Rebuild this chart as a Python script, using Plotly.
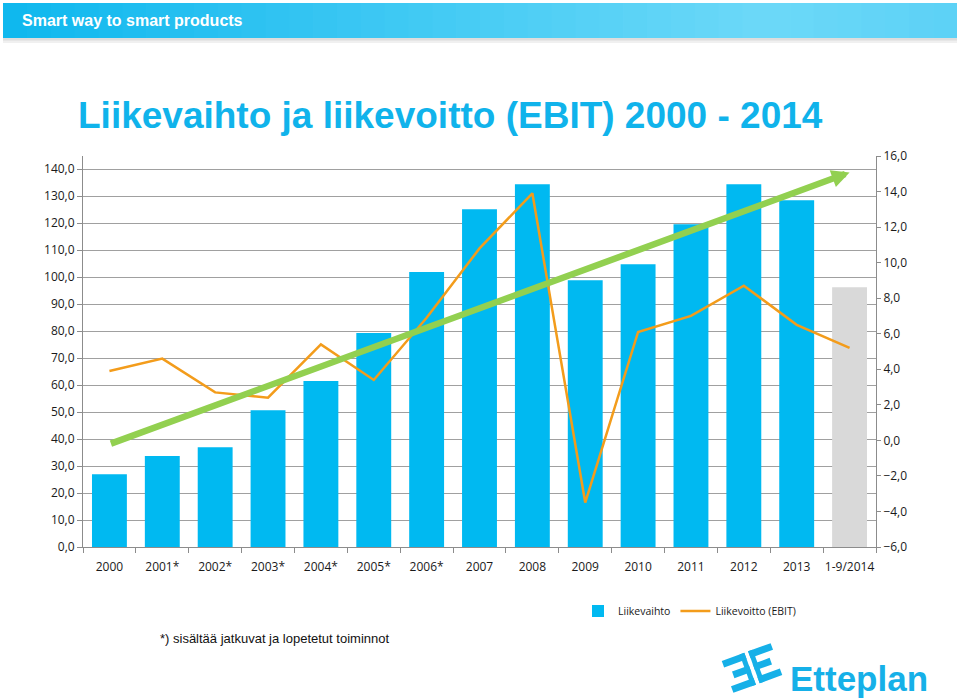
import math
import plotly.graph_objects as go

# ---------------- data ----------------
years = ["2000", "2001*", "2002*", "2003*", "2004*", "2005*", "2006*", "2007",
         "2008", "2009", "2010", "2011", "2012", "2013", "1-9/2014"]
revenue = [27.0, 33.7, 37.0, 50.7, 61.5, 79.3, 101.9, 125.2,
           134.4, 98.9, 104.8, 119.6, 134.4, 128.5, 96.3]
ebit = [3.9, 4.6, 2.7, 2.4, 5.4, 3.4, 6.9, 10.8,
        13.9, -3.5, 6.1, 7.0, 8.7, 6.5, 5.2]
trend_x = ["2000", "1-9/2014"]
trend_y = [38.1, 138.8]
left_ticks = list(range(0, 150, 10))
right_ticks = list(range(-6, 18, 2))

# ---------------- styles ----------------
W, H = 960, 700
L, R, T, B = 83, 876, 156, 547
BLUE = "#00B9F1"
GREY = "#D9D9D9"
ORANGE = "#F39C1B"
GREEN = "#92D050"
AXIS = "#8C8C8C"
GRID = "#A0A0A0"
TICKFONT = dict(family="Open Sans, Lato, sans-serif", size=12, color="#1a1a1a")


def px(x):
    return (x - L) / (R - L)


def py(y):
    return (B - y) / (B - T)


bar_colors = [BLUE] * (len(years) - 1) + [GREY]

fig = go.Figure()
fig.add_trace(go.Bar(
    x=years, y=revenue, name="Liikevaihto",
    marker=dict(color=bar_colors, line=dict(width=0)),
    yaxis="y",
))
fig.add_trace(go.Scatter(
    x=years, y=ebit, name="Liikevoitto (EBIT)", mode="lines",
    line=dict(color=ORANGE, width=2.5), yaxis="y2",
))

shapes = []
annotations = []

# green trend arrow
annotations.append(dict(
    x=years.index(trend_x[1]), y=trend_y[1],
    ax=years.index(trend_x[0]), ay=trend_y[0],
    xref="x", yref="y", axref="x", ayref="y",
    text="", showarrow=True, arrowhead=2, arrowsize=0.55,
    arrowwidth=6.5, arrowcolor=GREEN, standoff=0,
))

# header banner (gradient strips)
def lerp(c1, c2, t):
    return tuple(int(round(a + (b - a) * t)) for a, b in zip(c1, c2))

c_left, c_peak, c_end = (14, 183, 238), (108, 217, 248), (92, 209, 246)
n = 40
x0b, x1b = 3, 957
for i in range(n):
    xa = x0b + (x1b - x0b) * i / n
    xb = x0b + (x1b - x0b) * (i + 1) / n + 0.8
    t = (i + 0.5) / n
    if t < 0.8:
        c = lerp(c_left, c_peak, t / 0.8)
    else:
        c = lerp(c_peak, c_end, (t - 0.8) / 0.2)
    shapes.append(dict(type="rect", xref="paper", yref="paper",
                       x0=px(xa), x1=px(min(xb, x1b)), y0=py(38), y1=py(3),
                       fillcolor="rgb(%d,%d,%d)" % c, line=dict(width=0), layer="above"))
shapes.append(dict(type="rect", xref="paper", yref="paper",
                   x0=px(x0b), x1=px(x1b), y0=py(43), y1=py(38),
                   fillcolor="rgba(0,0,0,0.06)", line=dict(width=0)))
shapes.append(dict(type="rect", xref="paper", yref="paper",
                   x0=px(x0b), x1=px(x1b), y0=py(40.5), y1=py(38),
                   fillcolor="rgba(0,0,0,0.08)", line=dict(width=0)))

annotations.append(dict(
    x=px(20), y=py(20), xref="paper", yref="paper", xanchor="left", yanchor="middle",
    text="<b>Smart way to smart products</b>", showarrow=False,
    font=dict(family="Arial, Liberation Sans, sans-serif", size=16, color="white"),
))

# title
annotations.append(dict(
    x=px(76), y=py(115), xref="paper", yref="paper", xanchor="left", yanchor="middle",
    text="<b>Liikevaihto ja liikevoitto (EBIT) 2000 - 2014</b>", showarrow=False,
    font=dict(family="Arial, Liberation Sans, sans-serif", size=37, color="#10B3EB"),
))

# footnote
annotations.append(dict(
    x=px(158), y=py(638), xref="paper", yref="paper", xanchor="left", yanchor="middle",
    text="*) sisältää jatkuvat ja lopetetut toiminnot", showarrow=False,
    font=dict(family="Arial, Liberation Sans, sans-serif", size=13, color="#111111"),
))

# logo text
LOGO = "#16B0E8"
annotations.append(dict(
    x=px(788), y=py(678), xref="paper", yref="paper", xanchor="left", yanchor="middle",
    text="<b>Etteplan</b>", showarrow=False,
    font=dict(family="Arial, Liberation Sans, sans-serif", size=35, color=LOGO),
))

# logo icon: tilted mirrored "ƎE"
cx, cy, ang = 752, 668, math.radians(20)


def to_paper(u, v):
    xp = cx + (u * math.cos(ang) - v * math.sin(ang))
    yp = cy - (u * math.sin(ang) + v * math.cos(ang))
    return px(xp), py(yp)


def poly(pts):
    s = ""
    for k, (u, v) in enumerate(pts):
        a, b = to_paper(u, v)
        s += ("M" if k == 0 else "L") + "%.5f,%.5f " % (a, b)
    return s + "Z"


rects = []
for side in (-1, 1):
    s0, s1 = sorted([side * 2, side * 7])
    rects.append([(s0, -17), (s1, -17), (s1, 17), (s0, 17)])
    for (v0, v1, ln) in [(10, 17, 26), (-3.5, 3.5, 20), (-17, -10, 26)]:
        a0, a1 = sorted([side * 2, side * ln])
        rects.append([(a0, v0), (a1, v0), (a1, v1), (a0, v1)])
for r in rects:
    shapes.append(dict(type="path", xref="paper", yref="paper", path=poly(r),
                       fillcolor=LOGO, line=dict(width=0)))

fig.update_layout(
    width=W, height=H,
    margin=dict(l=L, r=W - R, t=T, b=H - B, pad=0),
    paper_bgcolor="white", plot_bgcolor="white",
    separators=", ",
    bargap=0.34,
    showlegend=True,
    legend=dict(orientation="h", x=px(578), y=py(611), xanchor="left", yanchor="middle",
                font=dict(family="Open Sans, Lato, sans-serif", size=10.5, color="#1a1a1a"),
                bgcolor="rgba(0,0,0,0)", traceorder="normal"),
    xaxis=dict(type="category", showline=True, linecolor=AXIS, linewidth=1,
               ticks="outside", tickson="boundaries", ticklen=5, tickcolor=AXIS,
               tickangle=0, ticklabelstandoff=9, showgrid=False, tickfont=TICKFONT),
    yaxis=dict(range=[0, 144.9], tickvals=left_ticks, tickformat=".1f",
               showline=True, linecolor=AXIS, linewidth=1,
               ticks="outside", ticklen=5, tickcolor=AXIS,
               showgrid=True, gridcolor=GRID, gridwidth=1,
               zeroline=False, tickfont=TICKFONT),
    yaxis2=dict(range=[-6, 16], tickvals=right_ticks, tickformat=".1f",
                overlaying="y", side="right",
                showline=True, linecolor=AXIS, linewidth=1,
                ticks="outside", ticklen=4, tickcolor=AXIS,
                showgrid=False, zeroline=False, tickfont=TICKFONT),
    shapes=shapes,
    annotations=annotations,
)

fig.write_html("out.html", config={"displayModeBar": False},
               post_script="document.body.style.margin='0px';document.body.style.overflow='hidden';")
